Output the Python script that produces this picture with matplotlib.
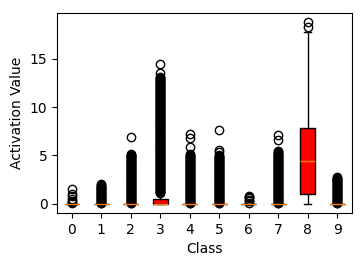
import matplotlib
matplotlib.use("Agg")
import matplotlib.pyplot as plt

classes = ["0", "1", "2", "3", "4", "5", "6", "7", "8", "9"]
medians = [0, 0, 0, 0, 0, 0, 0, 0, 4.4, 0]
q1s = [0, 0, 0, 0, 0, 0, 0, 0, 1.03, 0]
q3s = [0, 0, 0, 0.5, 0, 0, 0, 0, 7.8, 0]
whis_lo = [0, 0, 0, 0, 0, 0, 0, 0, 0, 0]
whis_hi = [0, 0, 0, 1.2, 0, 0, 0, 0, 17.75, 0]

# dense outlier columns (common low part, 0 - 5)
low_a = [0.05, 0.2, 0.35, 0.5, 0.65, 0.8, 0.95, 1.1, 1.25, 1.4, 1.55,
         1.7, 1.85, 2.0, 2.15, 2.3, 2.45, 2.6, 2.75, 2.9, 3.05, 3.2,
         3.35, 3.5, 3.65, 3.8, 3.95, 4.1, 4.25, 4.4, 4.55, 4.7, 4.85, 5.0]
low_b = [0.12, 0.28, 0.42, 0.58, 0.72, 0.88, 1.02, 1.18, 1.32, 1.48,
         1.62, 1.78, 1.92, 2.08, 2.22, 2.38, 2.52, 2.68, 2.82, 2.98,
         3.12, 3.28, 3.42, 3.58, 3.72, 3.88, 4.02, 4.18, 4.32, 4.48,
         4.62, 4.78, 4.92]

fliers_0 = [0.05, 0.15, 0.3, 0.5, 0.8, 1.0, 1.5]
fliers_1 = [v for v in low_a + low_b if v <= 2.0]
fliers_2 = low_a + low_b + [5.08, 5.15, 6.87]
fliers_3 = [1.1, 1.18, 1.25, 1.32, 1.4, 1.48, 1.55, 1.62, 1.7, 1.78, 1.85,
            1.92, 2.0, 2.08, 2.15, 2.22, 2.3, 2.38, 2.45, 2.52, 2.6, 2.68,
            2.75, 2.82, 2.9, 2.98, 3.05, 3.12, 3.2, 3.28, 3.35, 3.42, 3.5,
            3.58, 3.65, 3.72, 3.8, 3.88, 3.95, 4.02, 4.1, 4.18, 4.25, 4.32,
            4.4, 4.48, 4.55, 4.62, 4.7, 4.78, 4.85, 4.92, 5.0, 5.08, 5.15,
            5.22, 5.3, 5.38, 5.45, 5.52, 5.6, 5.68, 5.75, 5.82, 5.9, 5.98,
            6.05, 6.12, 6.2, 6.28, 6.35, 6.42, 6.5, 6.58, 6.65, 6.72, 6.8,
            6.88, 6.95, 7.02, 7.1, 7.18, 7.25, 7.32, 7.4, 7.48, 7.55, 7.62,
            7.7, 7.78, 7.85, 7.92, 8.0, 8.08, 8.15, 8.22, 8.3, 8.38, 8.45,
            8.52, 8.6, 8.68, 8.75, 8.82, 8.9, 8.98, 9.05, 9.12, 9.2, 9.28,
            9.35, 9.42, 9.5, 9.58, 9.65, 9.72, 9.8, 9.88, 9.95, 10.02,
            10.1, 10.18, 10.25, 10.32, 10.4, 10.48, 10.55, 10.62, 10.7,
            10.78, 10.85, 10.92, 11.0, 11.08, 11.15, 11.22, 11.3, 11.38,
            11.45, 11.52, 11.6, 11.68, 11.75, 11.82, 11.9, 11.98, 12.05,
            12.12, 12.2, 12.28, 12.35, 12.42, 12.5, 12.58, 12.65, 12.72,
            12.8, 12.88, 12.95, 13.02, 13.1, 13.5, 14.45]
fliers_4 = low_a + low_b + [5.1, 5.9, 6.8, 7.25]
fliers_5 = low_a + low_b + [5.3, 5.55, 7.6]
fliers_6 = [0.1, 0.25, 0.4, 0.55, 0.7, 0.85]
fliers_7 = low_a + low_b + [5.08, 5.15, 5.22, 5.3, 5.4, 6.6, 7.1]
fliers_8 = [18.25, 18.75]
fliers_9 = [v for v in low_a + low_b if v <= 2.75]
fliers = [fliers_0, fliers_1, fliers_2, fliers_3, fliers_4, fliers_5,
          fliers_6, fliers_7, fliers_8, fliers_9]

stats = []
for i, lab in enumerate(classes):
    stats.append(dict(label=lab, med=medians[i], q1=q1s[i], q3=q3s[i],
                      whislo=whis_lo[i], whishi=whis_hi[i], fliers=fliers[i]))

fig = plt.figure(figsize=(3.64, 2.66), dpi=100)
ax = fig.add_axes([0.157, 0.2, 0.81, 0.75])
ax.bxp(stats, positions=range(len(classes)), patch_artist=True,
       boxprops=dict(facecolor="red", edgecolor="black"),
       medianprops=dict(color="C1"))
ax.set_xlabel("Class")
ax.set_ylabel("Activation Value")
ax.set_yticks([0, 5, 10, 15])
fig.savefig("out.png", dpi=100)
